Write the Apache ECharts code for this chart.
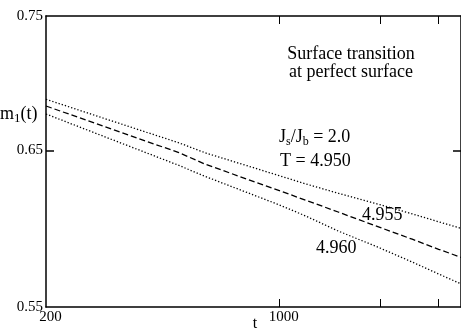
<!DOCTYPE html>
<html>
<head>
<meta charset="utf-8">
<script src="https://cdn.jsdelivr.net/npm/echarts@6/dist/echarts.min.js"></script>
<style>
  html, body { margin: 0; padding: 0; background: #fff; }
  #chart { width: 461px; height: 330px; }
</style>
</head>
<body>
<div id="chart"></div>
<script>
// time steps (log axis)
const tValues = [200, 300, 400, 500, 600, 800, 1000, 1200, 1500, 2000, 2500, 3000, 3500]
// m1(t) for the three temperatures
const m4950 = [0.6863, 0.6723, 0.6626, 0.6552, 0.6482, 0.6394, 0.6326, 0.6271, 0.6209, 0.6134, 0.6074, 0.6023, 0.5981]
const m4955 = [0.6814, 0.6665, 0.6562, 0.6484, 0.6404, 0.6303, 0.6226, 0.6163, 0.6086, 0.5987, 0.5912, 0.5849, 0.5799]
const m4960 = [0.6756, 0.6594, 0.6482, 0.6396, 0.6321, 0.6214, 0.6132, 0.6060, 0.5964, 0.5857, 0.5770, 0.5697, 0.5637]

const xTicks = [1000, 2000, 3000]
const xLabels = [200, 1000]
const yTicks = [0.65]
const yLabels = [0.55, 0.65, 0.75]

const serif = '"Liberation Serif", "DejaVu Serif", serif'
const pairs = arr => tValues.map((t, i) => [t, arr[i]])

const chart = echarts.init(document.getElementById('chart'))

const axisLine = { show: true, lineStyle: { color: '#000', width: 1.5 } }

const option = {
  animation: false,
  backgroundColor: '#fff',
  grid: { left: 46, top: 16, right: 0, bottom: 23, outerBoundsMode: 'none', containLabel: false },
  xAxis: [
    {
      type: 'log', logBase: 10, min: 200, max: 3500, position: 'bottom',
      axisLine,
      axisTick: { show: true, inside: true, length: 8, customValues: xTicks, lineStyle: { color: '#000', width: 1 } },
      minorTick: { show: false },
      axisLabel: {
        customValues: xLabels, margin: 3, padding: [0, 0, 0, 9],
        color: '#000', fontFamily: serif, fontSize: 15,
        formatter: v => String(Math.round(v))
      },
      splitLine: { show: false }
    },
    {
      type: 'log', logBase: 10, min: 200, max: 3500, position: 'top',
      axisLine,
      axisTick: { show: true, inside: true, length: 8, customValues: xTicks, lineStyle: { color: '#000', width: 1 } },
      minorTick: { show: false },
      axisLabel: { show: false },
      splitLine: { show: false }
    }
  ],
  yAxis: [
    {
      type: 'log', logBase: 10, min: 0.55, max: 0.75, position: 'left',
      axisLine,
      axisTick: { show: true, inside: true, length: 8, customValues: yTicks, lineStyle: { color: '#000', width: 1.5 } },
      minorTick: { show: false },
      axisLabel: {
        customValues: yLabels, margin: 3,
        color: '#000', fontFamily: serif, fontSize: 15,
        formatter: v => v.toFixed(2)
      },
      splitLine: { show: false }
    },
    {
      type: 'log', logBase: 10, min: 0.55, max: 0.75, position: 'right',
      axisLine,
      axisTick: { show: true, inside: true, length: 8, customValues: yTicks, lineStyle: { color: '#000', width: 1.5 } },
      minorTick: { show: false },
      axisLabel: { show: false },
      splitLine: { show: false }
    }
  ],
  series: [
    {
      name: '4.950', type: 'line', showSymbol: false, smooth: false,
      data: pairs(m4950),
      lineStyle: { color: '#000', width: 1.3, type: [1.3, 2] }
    },
    {
      name: '4.955', type: 'line', showSymbol: false, smooth: false,
      data: pairs(m4955),
      lineStyle: { color: '#000', width: 1.3, type: [6, 3] }
    },
    {
      name: '4.960', type: 'line', showSymbol: false, smooth: false,
      data: pairs(m4960),
      lineStyle: { color: '#000', width: 1.3, type: [1.3, 2] }
    }
  ],
  graphic: [
    {
      type: 'text',
      style: {
        text: '{m|m}{s|1}{m|(t)}', x: 0, y: 103,
        rich: {
          m: { fontFamily: serif, fontSize: 18, color: '#000', lineHeight: 22 },
          s: { fontFamily: serif, fontSize: 13, color: '#000', lineHeight: 13, verticalAlign: 'bottom' }
        }
      }
    },
    {
      type: 'text',
      style: { text: 't', x: 255, y: 324, align: 'center', verticalAlign: 'middle', fontFamily: serif, fontSize: 16, fill: '#000' }
    },
    {
      type: 'text',
      style: {
        text: 'Surface transition', x: 351, y: 54,
        align: 'center', verticalAlign: 'middle',
        fontFamily: serif, fontSize: 18, fill: '#000'
      }
    },
    {
      type: 'text',
      style: {
        text: 'at perfect surface', x: 351, y: 72,
        align: 'center', verticalAlign: 'middle',
        fontFamily: serif, fontSize: 18, fill: '#000'
      }
    },
    {
      type: 'text',
      style: {
        text: '{m|J}{s|s}{m|/J}{s|b}{m| = 2.0}', x: 279, y: 126,
        rich: {
          m: { fontFamily: serif, fontSize: 18, color: '#000', lineHeight: 22 },
          s: { fontFamily: serif, fontSize: 12, color: '#000', lineHeight: 12, verticalAlign: 'bottom' }
        }
      }
    },
    {
      type: 'text',
      style: { text: 'T = 4.950', x: 280, y: 161, verticalAlign: 'middle', fontFamily: serif, fontSize: 18, fill: '#000' }
    },
    {
      type: 'text',
      style: { text: '4.955', x: 362, y: 215, verticalAlign: 'middle', fontFamily: serif, fontSize: 18, fill: '#000' }
    },
    {
      type: 'text',
      style: { text: '4.960', x: 316, y: 248, verticalAlign: 'middle', fontFamily: serif, fontSize: 18, fill: '#000' }
    }
  ]
}

chart.setOption(option)
</script>
</body>
</html>
